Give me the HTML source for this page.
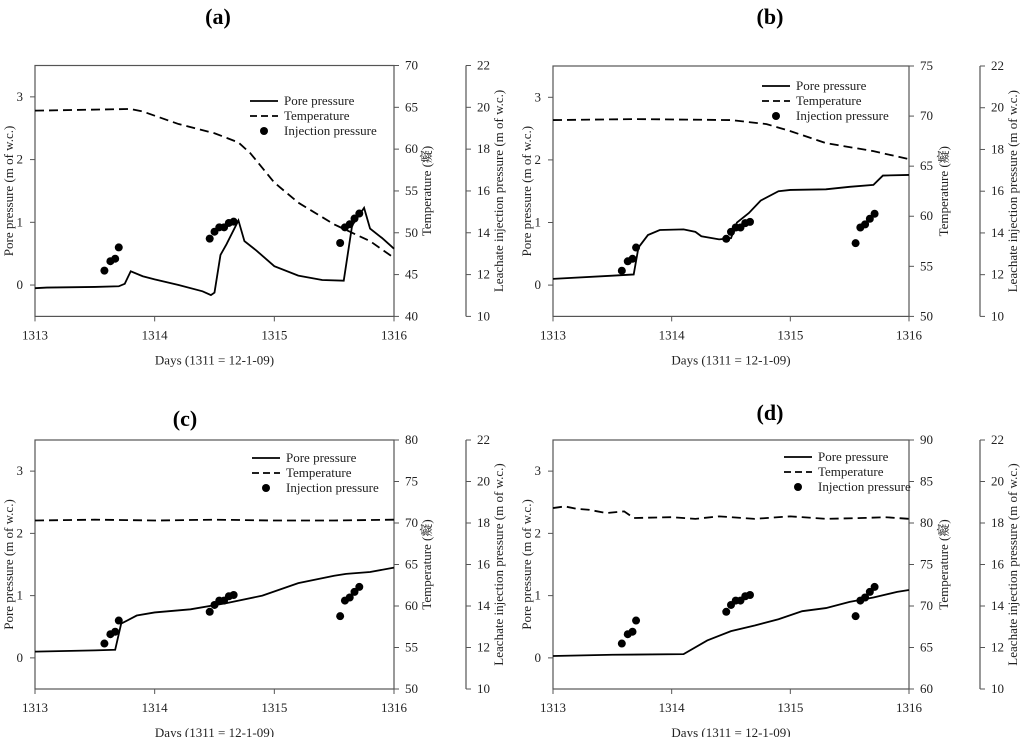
<!DOCTYPE html>
<html><head><meta charset="utf-8"><style>
body{margin:0;background:#fff;}
svg{display:block;font-family:"Liberation Serif","Noto Serif CJK SC",serif;}
</style></head><body>
<svg id="c" width="1024" height="737" viewBox="0 0 1024 737"></svg>
<script>
const xTicks=[1313,1314,1315,1316];
const poreTicks=[0,1,2,3];
const leachTicks=[10,12,14,16,18,20,22];
const injX=[1313.58,1313.63,1313.67,1313.70,1314.46,1314.50,1314.54,1314.58,1314.62,1314.66,1315.55,1315.59,1315.63,1315.67,1315.71];
const injY=[12.19,12.64,12.76,13.3,13.72,14.05,14.26,14.26,14.47,14.53,13.51,14.26,14.41,14.68,14.92];
const poreAX=[1313,1313.1,1313.5,1313.7,1313.75,1313.8,1313.9,1314.0,1314.2,1314.4,1314.47,1314.5,1314.55,1314.6,1314.7,1314.75,1314.85,1315.0,1315.2,1315.4,1315.58,1315.65,1315.75,1315.8,1315.9,1316];
const poreAY=[-0.05,-0.04,-0.03,-0.02,0.02,0.22,0.14,0.09,0.0,-0.1,-0.16,-0.12,0.48,0.65,1.03,0.7,0.55,0.3,0.15,0.08,0.07,0.95,1.23,0.9,0.75,0.58];
const tempAX=[1313,1313.8,1313.9,1314.2,1314.5,1314.7,1314.8,1315.0,1315.2,1315.5,1315.8,1316];
const tempAY=[64.6,64.8,64.5,63,61.9,60.8,59.5,56,53.6,51,49,47];
const poreBX=[1313,1313.5,1313.68,1313.72,1313.8,1313.9,1314.1,1314.2,1314.25,1314.4,1314.5,1314.55,1314.65,1314.75,1314.9,1315,1315.3,1315.5,1315.7,1315.78,1316];
const poreBY=[0.1,0.15,0.17,0.6,0.8,0.88,0.89,0.85,0.78,0.73,0.75,1.0,1.15,1.35,1.5,1.52,1.53,1.57,1.6,1.75,1.76];
const tempBX=[1313,1313.7,1314.5,1314.8,1315.0,1315.3,1315.7,1316];
const tempBY=[69.6,69.7,69.6,69.2,68.5,67.3,66.5,65.7];
const poreCX=[1313,1313.5,1313.67,1313.72,1313.85,1314,1314.3,1314.6,1314.9,1315.2,1315.5,1315.6,1315.8,1316];
const poreCY=[0.1,0.12,0.13,0.55,0.68,0.73,0.78,0.88,1.0,1.2,1.32,1.35,1.38,1.45];
const tempCX=[1313,1313.5,1314,1314.5,1315,1315.5,1316];
const tempCY=[70.3,70.4,70.3,70.4,70.3,70.3,70.4];
const poreDX=[1313,1313.5,1314.1,1314.3,1314.5,1314.7,1314.9,1315.1,1315.3,1315.5,1315.7,1315.9,1316];
const poreDY=[0.03,0.05,0.06,0.28,0.43,0.52,0.62,0.75,0.8,0.9,0.97,1.06,1.09];
const tempDX=[1313,1313.1,1313.2,1313.3,1313.45,1313.6,1313.68,1314,1314.2,1314.4,1314.7,1315,1315.3,1315.6,1315.8,1316];
const tempDY=[81.8,82,81.7,81.6,81.2,81.4,80.6,80.7,80.5,80.8,80.5,80.8,80.5,80.6,80.7,80.5];

const S=document.getElementById('c');
const NS='http://www.w3.org/2000/svg';
function mk(tag,attrs,parent){const e=document.createElementNS(NS,tag);for(const k in attrs)e.setAttribute(k,attrs[k]);(parent||S).appendChild(e);return e;}
function txt(s,x,y,attrs,parent){const t=mk('text',Object.assign({x:x,y:y,'font-size':13,fill:'#000'},attrs||{}),parent);t.textContent=s;return t;}

const panels=[
 {id:'a',L:35,R:394,T:65.5,B:316.4,ax3:466,tmin:40,tmax:70,tstep:5,title:[218,24],leg:[250,101],px:poreAX,py:poreAY,tx:tempAX,ty:tempAY,tlab:431,llab:503},
 {id:'b',L:553,R:909,T:66,B:316.4,ax3:980,tmin:50,tmax:75,tstep:5,title:[770,24],leg:[762,86],px:poreBX,py:poreBY,tx:tempBX,ty:tempBY,tlab:948,llab:1017},
 {id:'c',L:35,R:394,T:440,B:689,ax3:466,tmin:50,tmax:80,tstep:5,title:[185,426],leg:[252,458],px:poreCX,py:poreCY,tx:tempCX,ty:tempCY,tlab:431,llab:503},
 {id:'d',L:553,R:909,T:440,B:689,ax3:980,tmin:60,tmax:90,tstep:5,title:[770,420],leg:[784,457],px:poreDX,py:poreDY,tx:tempDX,ty:tempDY,tlab:948,llab:1017}
];
panels.forEach(p=>{
 const g=mk('g',{});
 
 
 const X=v=>p.L+(v-1313)/3*(p.R-p.L);
 const Y=v=>p.B-(v+0.5)/4*(p.B-p.T);
 const YT=v=>p.B-(v-p.tmin)/(p.tmax-p.tmin)*(p.B-p.T);
 const YL=v=>p.B-(v-10)/12*(p.B-p.T);
 const t=txt('('+p.id+')',p.title[0],p.title[1],{'font-size':22,'font-weight':'bold','text-anchor':'middle'},g);
 
 
 const box=mk('rect',{x:p.L,y:p.T,width:p.R-p.L,height:p.B-p.T,fill:'none',stroke:'#555','stroke-width':1.2},g);
 
 
 xTicks.forEach(v=>{mk('line',{x1:X(v),x2:X(v),y1:p.B,y2:p.B+5,stroke:'#555'},g);
  const l=txt(String(v),X(v),p.B+23,{'text-anchor':'middle','fill':'#222'},g);
  
  });
 poreTicks.forEach(v=>{mk('line',{x1:p.L-5,x2:p.L,y1:Y(v),y2:Y(v),stroke:'#555'},g);
  const l=txt(String(v),p.L-12,Y(v)+4,{'text-anchor':'end','fill':'#222'},g);
  
  });
 for(let v=p.tmin;v<=p.tmax;v+=p.tstep){mk('line',{x1:p.R,x2:p.R+5,y1:YT(v),y2:YT(v),stroke:'#555'},g);
  const l=txt(String(v),p.R+11,YT(v)+4,{'fill':'#222'},g);
  
  }
 const a3=mk('line',{x1:p.ax3,x2:p.ax3,y1:p.T,y2:p.B,stroke:'#555','stroke-width':1.2},g);
 
 
 leachTicks.forEach(v=>{mk('line',{x1:p.ax3,x2:p.ax3+5,y1:YL(v),y2:YL(v),stroke:'#555'},g);
  const l=txt(String(v),p.ax3+11,YL(v)+4,{'fill':'#222'},g);
  
  });
 const cy=(p.T+p.B)/2;
 let l=txt('Pore pressure (m of w.c.)',0,0,{'text-anchor':'middle','fill':'#222','transform':`translate(${p.L-22},${cy}) rotate(-90)`},g);
 
 
 l=txt('Temperature (\u7661)',0,0,{'text-anchor':'middle','fill':'#222','transform':`translate(${p.tlab},${cy}) rotate(-90)`},g);
 
 
 l=txt('Leachate injection pressure (m of w.c.)',0,0,{'text-anchor':'middle','fill':'#222','transform':`translate(${p.llab},${cy}) rotate(-90)`},g);
 
 
 l=txt('Days (1311 = 12-1-09)',(p.L+p.R)/2,p.B+48,{'text-anchor':'middle','fill':'#222'},g);
 
 
 const tp=p.tx.map((v,i)=>X(v)+','+YT(p.ty[i])).join(' ');
 const tl=mk('polyline',{points:tp,fill:'none',stroke:'#000','stroke-width':1.8,'stroke-dasharray':'9,5'},g);
 
 
 const pp=p.px.map((v,i)=>X(v)+','+Y(p.py[i])).join(' ');
 const pl=mk('polyline',{points:pp,fill:'none',stroke:'#000','stroke-width':1.8},g);
 
 
 injX.forEach((v,i)=>{const c=mk('circle',{cx:X(v),cy:YL(injY[i]),r:4,fill:'#000'},g);
  
  });
 const [lx,ly]=p.leg;
 const lg=mk('g',{},g);
 
 
 mk('line',{x1:lx,x2:lx+28,y1:ly,y2:ly,stroke:'#000','stroke-width':1.8},lg);
 txt('Pore pressure',lx+34,ly+4,{'fill':'#222'},lg);
 mk('line',{x1:lx,x2:lx+28,y1:ly+15,y2:ly+15,stroke:'#000','stroke-width':1.8,'stroke-dasharray':'7,4'},lg);
 txt('Temperature',lx+34,ly+19,{'fill':'#222'},lg);
 mk('circle',{cx:lx+14,cy:ly+30,r:4,fill:'#000'},lg);
 txt('Injection pressure',lx+34,ly+34,{'fill':'#222'},lg);
});
</script>
</body></html>
